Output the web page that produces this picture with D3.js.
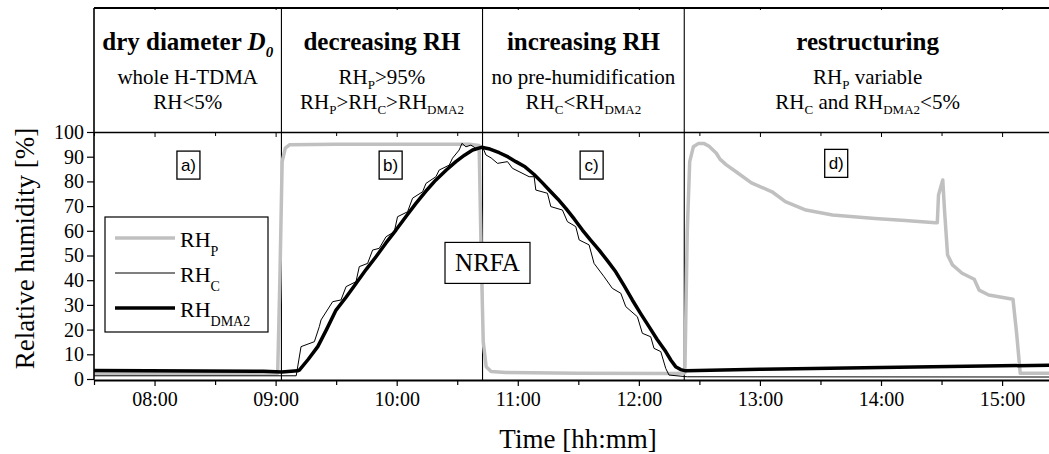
<!DOCTYPE html>
<html>
<head>
<meta charset="utf-8">
<script src="https://cdn.jsdelivr.net/npm/d3@7"></script>
<style>
  body { margin: 0; background: #fff; }
  svg { display: block; }
  .serif { font-family: "Liberation Serif", "Times New Roman", Times, serif; }
</style>
</head>
<body>
<div id="viz"></div>
<script>
// chart box
const width = 1049, height = 454;
const frameTop = 8;

// time axis (decimal hours) and tick labels
const hourTicks = [8, 9, 10, 11, 12, 13, 14, 15];
const halfTicks = [7.5, 8.5, 9.5, 10.5, 11.5, 12.5, 13.5, 14.5];
const tickLabels = ["08:00", "09:00", "10:00", "11:00", "12:00", "13:00", "14:00", "15:00"];
const rhTicks = [0, 10, 20, 30, 40, 50, 60, 70, 80, 90, 100];

// section borders (decimal hours)
const sectionBreaks = [9.048, 10.709, 12.375];

// RH_P [hour, %]
const rhP = [
  [7.5, 2.2], [9.0, 2.2], [9.017, 2.3], [9.035, 40], [9.054, 88], [9.08, 93.5], [9.114, 94.8],
  [9.5, 95], [10.2, 95], [10.6, 95], [10.681, 94.5], [10.698, 50], [10.715, 15], [10.739, 5],
  [10.78, 3], [10.9, 2.6], [11.5, 2.3], [12.3, 2.2], [12.38, 2.4], [12.40, 60], [12.42, 88],
  [12.45, 94], [12.49, 95.3], [12.54, 95.3], [12.58, 94.2], [12.64, 91.4], [12.67, 89],
  [12.72, 86.8], [12.8, 84], [12.93, 79.4], [13.1, 75.8], [13.21, 71.8], [13.38, 68.4],
  [13.6, 66.4], [13.95, 65], [14.2, 64.2], [14.45, 63.3], [14.465, 63.3], [14.475, 74.5],
  [14.51, 80.6], [14.525, 68], [14.55, 50.2], [14.59, 46.2], [14.67, 42.8], [14.77, 40.4],
  [14.81, 36], [14.89, 34], [15.09, 32.3], [15.12, 18.5], [15.15, 2.3], [15.41, 2.3]
];

// RH_C [hour, %]
const rhC = [
  [7.5, 1.3], [9.17, 1.3], [9.21, 13.1], [9.32, 15.1], [9.361, 21.2], [9.375, 23.9],
  [9.471, 31.3], [9.54, 32], [9.582, 37.4], [9.664, 39.4], [9.691, 45.5], [9.76, 46.8],
  [9.801, 52.2], [9.856, 52.9], [9.912, 57.6], [9.98, 59.6], [10.007, 65.7], [10.09, 67.7],
  [10.131, 73.2], [10.214, 75.8], [10.242, 79.2], [10.324, 81.9], [10.351, 84.6],
  [10.434, 86.6], [10.461, 89.4], [10.516, 92.7], [10.539, 95.4], [10.572, 94],
  [10.613, 94.7], [10.654, 93.4], [10.709, 94], [10.737, 90.7], [10.78, 89.5], [10.833, 87.3],
  [10.915, 88], [10.956, 85.3], [11.094, 81.9], [11.135, 81.9], [11.149, 76.5],
  [11.245, 75.2], [11.273, 69.8], [11.369, 68.4], [11.41, 63.7], [11.479, 61.7],
  [11.507, 56.3], [11.589, 54.3], [11.63, 46.8], [11.713, 41.4], [11.781, 36.7],
  [11.851, 34.7], [11.892, 29.3], [11.988, 25.2], [12.029, 18.5], [12.098, 17.1],
  [12.125, 12.4], [12.181, 11.1], [12.222, 4.3], [12.249, 1.6], [12.4, 0.9], [15.41, 0.8]
];

// RH_DMA2 [hour, %]
const rhDMA2 = [
  [7.5, 3.4], [8.9, 3.1], [9.05, 2.8], [9.18, 3.3], [9.196, 3.6], [9.27, 8], [9.348, 13.1],
  [9.42, 20], [9.499, 27.9], [9.58, 33], [9.664, 38.7], [9.75, 44.5], [9.829, 49.5],
  [9.91, 55], [9.994, 60.3], [10.08, 66], [10.159, 71.1], [10.24, 76], [10.324, 80.6],
  [10.41, 84.6], [10.489, 88], [10.56, 90.6], [10.627, 92.7], [10.7, 93.8], [10.77, 93.1],
  [10.847, 91.6], [10.92, 89.9], [10.984, 88], [11.06, 85.9], [11.135, 82.8], [11.2, 79.6],
  [11.259, 76.5], [11.33, 72.9], [11.397, 69.1], [11.466, 64.8], [11.534, 60.3],
  [11.6, 56.3], [11.672, 52.2], [11.74, 47.9], [11.809, 43.4], [11.878, 37.8],
  [11.946, 32], [12.015, 26.5], [12.084, 21.2], [12.15, 16.1], [12.222, 11.1],
  [12.265, 7.6], [12.304, 5], [12.345, 3.8], [12.387, 3.3], [13.0, 3.9], [14.0, 4.7], [15.41, 5.6]
];

// header text, per section: lines of [text, kind]
const headerLines = [
  [[["dry diameter ", "b"], ["D", "bi"], ["0", "bisub"]], [["whole H-TDMA", ""]], [["RH<5%", ""]]],
  [[["decreasing RH", "b"]], [["RH", ""], ["P", "sub"], [">95%", ""]],
   [["RH", ""], ["P", "sub"], [">RH", ""], ["C", "sub"], [">RH", ""], ["DMA2", "sub"]]],
  [[["increasing RH", "b"]], [["no pre-humidification", ""]],
   [["RH", ""], ["C", "sub"], ["<RH", ""], ["DMA2", "sub"]]],
  [[["restructuring", "b"]], [["RH", ""], ["P", "sub"], [" variable", ""]],
   [["RH", ""], ["C", "sub"], [" and RH", ""], ["DMA2", "sub"], ["<5%", ""]]]
];

// panel labels [text, hour, %]
const panelLabels = [["a)", 8.28, 86.6], ["b)", 9.95, 86.6], ["c)", 11.61, 86.6], ["d)", 13.63, 87.3]];
const noteLabel = ["NRFA", 10.75, 47];

const legendItems = [["P", "#c0c0c0", 3.5], ["C", "#000", 1], ["DMA2", "#000", 3.5]];

const x = d3.scaleLinear().domain([7.5, 15.404]).range([94, 1051]);
const y = d3.scaleLinear().domain([0, 100]).range([379, 132]);

const svg = d3.select("#viz").append("svg")
  .attr("width", width).attr("height", height)
  .attr("class", "serif");

svg.append("defs").append("clipPath").attr("id", "plotclip")
  .append("rect").attr("x", x(7.5)).attr("y", y(100)).attr("width", x(15.404) - x(7.5)).attr("height", y(0) - y(100) + 2);

// section dividers
svg.selectAll("line.div")
  .data(sectionBreaks).enter()
  .append("line").attr("class", "div")
  .attr("x1", d => x(d)).attr("x2", d => x(d))
  .attr("y1", frameTop).attr("y2", y(0) + 1)
  .attr("stroke", "#000").attr("stroke-width", 1.1);

// series
const line = d3.line().x(d => x(d[0])).y(d => y(d[1]));
const g = svg.append("g").attr("clip-path", "url(#plotclip)");
g.append("path").datum(rhP).attr("d", line)
  .attr("fill", "none").attr("stroke", "#c0c0c0").attr("stroke-width", 3.5).attr("stroke-linejoin", "round");
g.append("path").datum(rhC).attr("d", line)
  .attr("fill", "none").attr("stroke", "#000").attr("stroke-width", 1);
g.append("path").datum(rhDMA2).attr("d", line)
  .attr("fill", "none").attr("stroke", "#000").attr("stroke-width", 3.5).attr("stroke-linejoin", "round");

// frame: header top, left edge
svg.append("line").attr("x1", x(7.5)).attr("x2", width + 5).attr("y1", frameTop).attr("y2", frameTop)
  .attr("stroke", "#000").attr("stroke-width", 2);
svg.append("line").attr("x1", x(7.5)).attr("x2", x(7.5)).attr("y1", frameTop).attr("y2", y(0) + 1)
  .attr("stroke", "#000").attr("stroke-width", 1.6);

// small ticks under header top
svg.append("g").attr("transform", `translate(0,${frameTop})`)
  .call(d3.axisBottom(x).tickValues(hourTicks).tickSize(2).tickFormat("").tickSizeOuter(0))
  .call(a => a.select(".domain").remove());

// top of plot with inward ticks
svg.append("g").attr("transform", `translate(0,${y(100)})`)
  .call(d3.axisBottom(x).tickValues(hourTicks).tickSize(5).tickFormat("").tickSizeOuter(0))
  .call(a => a.select(".domain").attr("stroke-width", 1.6));
svg.append("g").attr("transform", `translate(0,${y(100)})`)
  .call(d3.axisBottom(x).tickValues(halfTicks).tickSize(4).tickFormat("").tickSizeOuter(0))
  .call(a => a.select(".domain").remove());

// bottom axis
const xAxis = svg.append("g").attr("transform", `translate(0,${y(0) + 1})`)
  .call(d3.axisBottom(x).tickValues(hourTicks).tickSize(6).tickPadding(6)
    .tickFormat((d, i) => tickLabels[i]).tickSizeOuter(0));
xAxis.attr("font-family", null);
xAxis.select(".domain").attr("stroke-width", 2);
xAxis.selectAll("line").attr("stroke-width", 1.2);
xAxis.selectAll("text").attr("font-size", 20).attr("fill", "#000");
svg.append("g").attr("transform", `translate(0,${y(0) + 1})`)
  .call(d3.axisBottom(x).tickValues(halfTicks).tickSize(5).tickFormat("").tickSizeOuter(0))
  .call(a => a.select(".domain").remove())
  .selectAll("line").attr("stroke-width", 1.2);

// left axis
const yAxis = svg.append("g").attr("transform", `translate(${x(7.5)},0)`)
  .call(d3.axisLeft(y).tickValues(rhTicks).tickSize(7).tickPadding(3).tickSizeOuter(0));
yAxis.attr("font-family", null);
yAxis.select(".domain").remove();
yAxis.selectAll("line").attr("stroke-width", 1.2);
yAxis.selectAll("text").attr("font-size", 20).attr("fill", "#000");

// header texts
const colEdges = [x(7.5)].concat(sectionBreaks.map(x), [x(15.404)]);
const lineBase = [50, 84, 109];
headerLines.forEach((lines, c) => {
  const cx = (colEdges[c] + colEdges[c + 1]) / 2;
  lines.forEach((parts, li) => {
    const t = svg.append("text").attr("x", cx).attr("y", lineBase[li])
      .attr("text-anchor", "middle").attr("font-size", li === 0 ? 25 : 21)
      .attr("font-weight", li === 0 ? "bold" : "normal");
    let shift = 0;
    parts.forEach(([s, kind]) => {
      const sub = kind.indexOf("sub") >= 0;
      const ts = t.append("tspan").text(s);
      const target = sub ? (li === 0 ? 7 : 5) : 0;
      if (target !== shift) { ts.attr("dy", target - shift); shift = target; }
      if (sub) ts.attr("font-size", li === 0 ? 15 : 13);
      if (kind.indexOf("i") >= 0) ts.attr("font-style", "italic");
    });
  });
});

// panel labels
panelLabels.forEach(([s, h, v]) => {
  const cx = x(h), cy = y(v);
  svg.append("rect").attr("x", cx - 11.5).attr("y", cy - 14).attr("width", 23).attr("height", 28)
    .attr("fill", "#fff").attr("stroke", "#000").attr("stroke-width", 1.3);
  svg.append("text").attr("x", cx).attr("y", cy + 6).attr("text-anchor", "middle")
    .attr("font-family", "Liberation Sans, Arial, sans-serif").attr("font-size", 17).text(s);
});

// NRFA note
{
  const cx = x(noteLabel[1]), cy = y(noteLabel[2]);
  svg.append("rect").attr("x", cx - 42.5).attr("y", cy - 20.5).attr("width", 85).attr("height", 41)
    .attr("fill", "#fff").attr("stroke", "#000").attr("stroke-width", 1.2);
  svg.append("text").attr("x", cx).attr("y", cy + 8.5).attr("text-anchor", "middle")
    .attr("font-size", 25).text(noteLabel[0]);
}

// legend
const lg = svg.append("g").attr("transform", "translate(105,217)");
lg.append("rect").attr("width", 163).attr("height", 115)
  .attr("fill", "#fff").attr("stroke", "#000").attr("stroke-width", 1.2);
legendItems.forEach(([sub, col, w], i) => {
  const ly = 21 + i * 35;
  lg.append("line").attr("x1", 10).attr("x2", 70).attr("y1", ly).attr("y2", ly)
    .attr("stroke", col).attr("stroke-width", w);
  const t = lg.append("text").attr("x", 75).attr("y", ly + 9).attr("font-size", 22);
  t.append("tspan").text("RH");
  t.append("tspan").attr("dy", 9).attr("font-size", 14).text(sub);
});

// axis titles
svg.append("text").attr("transform", "translate(34,248.5) rotate(-90)")
  .attr("text-anchor", "middle").attr("font-size", 27).text("Relative humidity [%]");
svg.append("text").attr("x", 578).attr("y", 448)
  .attr("text-anchor", "middle").attr("font-size", 27).text("Time [hh:mm]");
</script>
</body>
</html>
